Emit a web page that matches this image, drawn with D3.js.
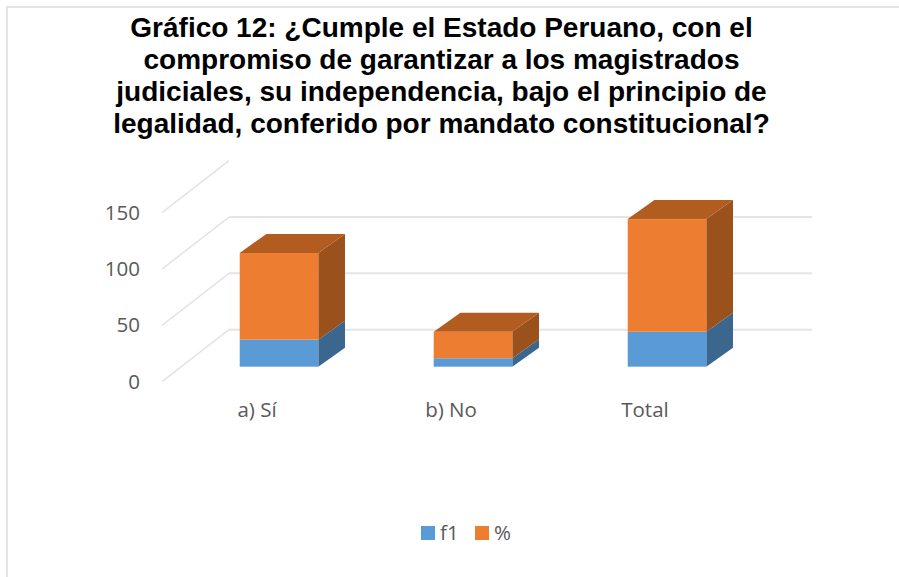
<!DOCTYPE html>
<html>
<head>
<meta charset="utf-8">
<script src="https://cdn.jsdelivr.net/npm/d3@7"></script>
<style>
    html, body { margin: 0; padding: 0; background: #fff; }
    svg { display: block; }
</style>
</head>
<body>
<div id="chart"></div>
<script>
// data
var categories = ["a) Sí", "b) No", "Total"];
var f1Values = [24, 7.5, 31];
var pctValues = [77, 23.5, 100];
var yTicks = [0, 50, 100, 150];
var legendLabels = ["f1", "%"];
var titleLines = [
    "Gráfico 12: ¿Cumple el Estado Peruano, con el",
    "compromiso de garantizar a los magistrados",
    "judiciales, su independencia, bajo el principio de",
    "legalidad, conferido por mandato constitucional?"
];

function init() {
    var w = 899;
    var h = 577;

    var svg = d3.select("#chart").append("svg")
                .attr("width", w)
                .attr("height", h);

    // frame of the pasted chart, only top and left show
    svg.append("path")
        .attr("d", d3.line()([[7, h], [7, 7], [w, 7]]))
        .attr("fill", "none")
        .attr("stroke", "#dcdcdc")
        .attr("stroke-width", 1.5);

    // title
    svg.append("g").selectAll("text")
        .data(titleLines)
        .enter()
        .append("text")
        .attr("x", 441.5)
        .attr("y", function(d, i) { return 37 + i * 32; })
        .attr("text-anchor", "middle")
        .attr("font-family", "Liberation Sans")
        .attr("font-weight", "bold")
        .attr("font-size", "28px")
        .attr("fill", "#000")
        .text(function(d) { return d; });

    var xScale = d3.scaleBand()
                .domain(categories)
                .range([182, 764])
                .paddingInner(0.595)
                .paddingOuter(0.2975);

    // front edge of the floor
    var yScale = d3.scaleLinear()
                .domain([0, 150])
                .range([381.7, 212.7]);

    // depth of the walls and of the bars (3d look)
    var wallDx = 67, wallDy = -52;
    var barDx = 26.7, barDy = -19;
    var barLift = -15;
    var wallX0 = 162;
    var wallX1 = 812;

    var line = d3.line();

    // gridlines: slanted part then back wall
    svg.append("g").selectAll("path")
        .data(yTicks)
        .enter()
        .append("path")
        .attr("d", function(d) {
            return line([[wallX0, yScale(d)], [wallX0 + wallDx, yScale(d) + wallDy]]);
        })
        .attr("fill", "none")
        .attr("stroke", "#e4e4e4")
        .attr("stroke-width", 1.5);

    // the top one is hidden behind the title block
    svg.append("g").selectAll("path")
        .data(yTicks.slice(0, 3))
        .enter()
        .append("path")
        .attr("d", function(d) {
            return line([[wallX0 + wallDx, yScale(d) + wallDy], [wallX1, yScale(d) + wallDy]]);
        })
        .attr("fill", "none")
        .attr("stroke", "#e4e4e4")
        .attr("stroke-width", 2);

    // stacked bars
    var rows = categories.map(function(c, i) {
        return { cat: c, f1: f1Values[i], pct: pctValues[i] };
    });
    var stack = d3.stack().keys(["f1", "pct"])(rows);

    var colors = {
        f1: { front: "#5b9bd5", side: "#3b668d", top: "#44739f" },
        pct: { front: "#ed7d31", side: "#9a511c", top: "#b25c20" }
    };

    var layers = svg.selectAll(".layer")
        .data(stack)
        .enter()
        .append("g")
        .attr("class", "layer");

    layers.each(function(layer) {
        var g = d3.select(this);
        var col = colors[layer.key];
        layer.forEach(function(d) {
            var x0 = xScale(d.data.cat);
            var x1 = x0 + xScale.bandwidth();
            var yb = yScale(d[0]) + barLift;
            var yt = yScale(d[1]) + barLift;

            g.append("path")
                .attr("d", line([[x1, yb], [x1 + barDx, yb + barDy], [x1 + barDx, yt + barDy], [x1, yt]]) + "Z")
                .attr("fill", col.side);
            g.append("rect")
                .attr("x", x0)
                .attr("y", yt)
                .attr("width", x1 - x0)
                .attr("height", yb - yt)
                .attr("fill", col.front);
            if (layer.key == "pct") {
                g.append("path")
                    .attr("d", line([[x0, yt], [x0 + barDx, yt + barDy], [x1 + barDx, yt + barDy], [x1, yt]]) + "Z")
                    .attr("fill", col.top);
            }
        });
    });

    // y axis
    var yAxis = d3.axisLeft().scale(yScale).tickValues(yTicks).tickSize(0).tickPadding(0);
    var yG = svg.append("g")
        .attr("transform", "translate(140,0)")
        .call(yAxis);
    yG.select(".domain").remove();
    yG.selectAll("text")
        .attr("font-family", "Open Sans")
        .attr("font-size", "20.5px")
        .attr("fill", "#595959");

    // x axis
    var xAxis = d3.axisBottom().scale(xScale).tickSize(0).tickPadding(0);
    var xG = svg.append("g")
        .attr("transform", "translate(-22,402)")
        .call(xAxis);
    xG.select(".domain").remove();
    xG.selectAll("text")
        .attr("font-family", "Open Sans")
        .attr("font-size", "20.5px")
        .attr("fill", "#595959");

    // legend
    var legendX = d3.scaleOrdinal().domain(legendLabels).range([421, 475]);
    var legendColor = d3.scaleOrdinal().domain(legendLabels).range([colors.f1.front, colors.pct.front]);
    var legend = svg.append("g").selectAll("g")
        .data(legendLabels)
        .enter()
        .append("g")
        .attr("transform", function(d) { return "translate(" + legendX(d) + ",526)"; });
    legend.append("rect")
        .attr("width", 14)
        .attr("height", 14)
        .attr("fill", function(d) { return legendColor(d); });
    legend.append("text")
        .attr("x", 19)
        .attr("y", 14)
        .attr("font-family", "Open Sans")
        .attr("font-size", "20.5px")
        .attr("fill", "#595959")
        .text(function(d) { return d; });
}

window.onload = init;
</script>
</body>
</html>
